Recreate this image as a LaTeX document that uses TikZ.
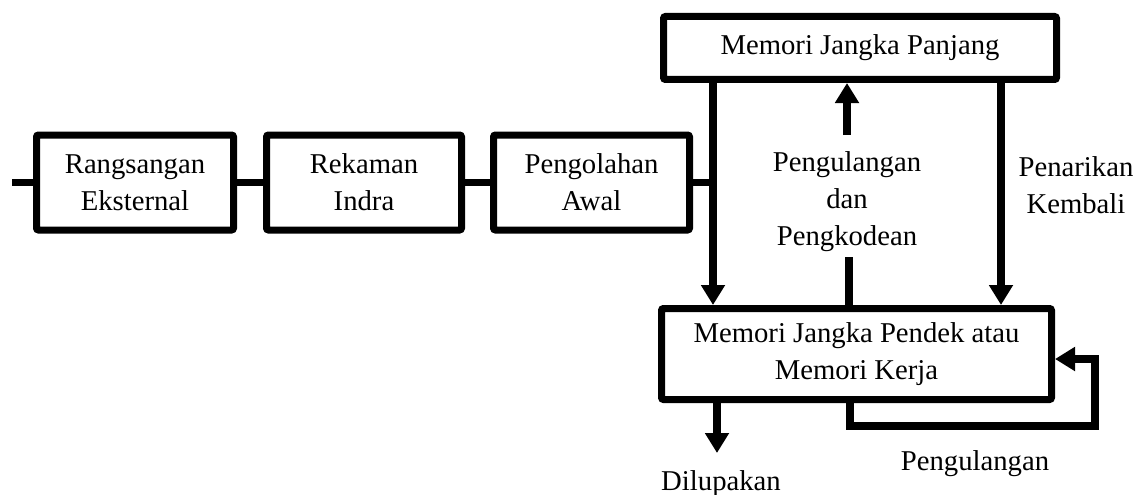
\documentclass[tikz,border=0pt]{standalone}
\usepackage{fontspec}
\setmainfont{Liberation Serif}
\usetikzlibrary{arrows.meta,calc}

\tikzset{
  txt/.style={font=\fontsize{28.7}{37}\selectfont, align=center, inner sep=0pt},
  stagebox/.style={txt, draw=black, line width=7pt, rounded corners=2pt,
    fill=white, minimum width=#1, minimum height=95pt},
  conn/.style={draw=black, line width=7.5pt, line join=miter},
  tip/.style={conn, -{Triangle[length=20pt,width=23pt]}},
}

\begin{document}
\begin{tikzpicture}[x=1pt, y=-1pt]
  \useasboundingbox (0,0) rectangle (1141,495);

  % stages of the input chain
  \node[stagebox=197pt] (rangs) at (135,182.5) {Rangsangan\\Eksternal};
  \node[stagebox=195pt] (rekam) at (364,182.5) {Rekaman\\Indra};
  \node[stagebox=196pt] (olah)  at (591.5,182.5) {Pengolahan\\Awal};

  % memory stores
  \node[txt, draw=black, line width=7pt, rounded corners=2pt, fill=white,
        minimum width=393pt, minimum height=63pt] (mjp) at (860,48) {Memori Jangka Panjang};
  \node[txt, draw=black, line width=7pt, rounded corners=2pt, fill=white,
        minimum width=390pt, minimum height=91pt] (mjpd) at (856.5,354)
        {Memori Jangka Pendek atau\\Memori Kerja};

  % helper points
  \coordinate (inl)   at (12,182.5);
  \coordinate (vl)    at (713,0);
  \coordinate (upt)   at (847,135);
  \coordinate (mid)   at (849,257);
  \coordinate (vr)    at (1001,0);
  \coordinate (loopA) at (850,426);
  \coordinate (loopB) at (1095,426);
  \coordinate (loopC) at (1095,359);
  \coordinate (lupa)  at (717,453);

  % chain connectors
  \draw[conn] (inl) -- (rangs.west);
  \draw[conn] (rangs.east) -- (rekam.west);
  \draw[conn] (rekam.east) -- (olah.west);
  \draw[conn] (olah.east) -- (olah.east -| vl);

  % transfers between the stores
  \draw[tip] (mjp.south -| vl) -- (mjpd.north -| vl);
  \draw[tip] (upt) -- (mjp.south -| upt);
  \draw[conn] (mid) -- (mjpd.north -| mid);
  \draw[tip] (mjp.south -| vr) -- (mjpd.north -| vr);

  % rehearsal loop and forgetting
  \draw[tip] (mjpd.south -| loopA) -- (loopA) -- (loopB) -- (loopC) -- (loopC -| mjpd.east);
  \draw[tip] (mjpd.south -| lupa) -- (lupa);

  % labels
  \node[txt] (lblkode) at (847,201.5) {Pengulangan\\dan\\Pengkodean};
  \node[txt] (lbltarik) at (1076,185) {Penarikan\\Kembali};
  \node[txt, anchor=base] (lblulang) at (975,470) {Pengulangan};
  \node[txt, anchor=base] (lbllupa) at (721,490) {Dilupakan};
\end{tikzpicture}
\end{document}
